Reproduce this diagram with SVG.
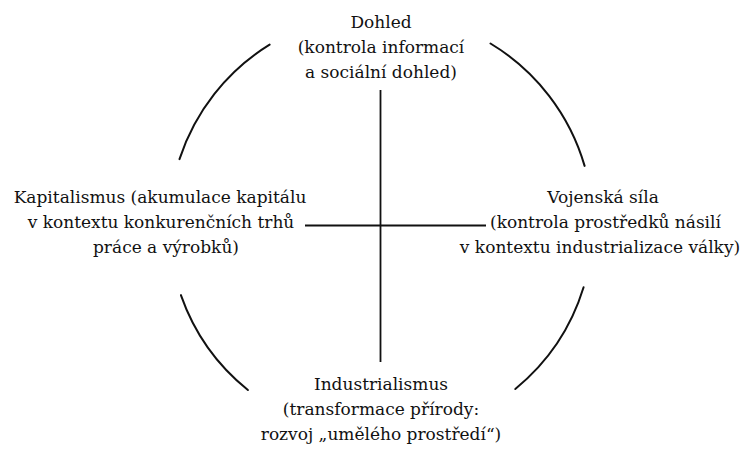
<svg xmlns="http://www.w3.org/2000/svg" width="751" height="449" viewBox="0 0 751 449">
<style>
  .bg { fill: #ffffff; }
  .t { font-family: "DejaVu Serif", serif; font-size: 17px; fill: #111111; text-anchor: middle; }
  .s { text-anchor: start; }
  .arc { fill: none; stroke: #111111; stroke-width: 2; stroke-linecap: round; }
  .axis { fill: none; stroke: #111111; stroke-width: 1.8; }
</style>
<rect class="bg" x="0" y="0" width="751" height="449"/>
<g id="connectors">
  <path class="arc" d="M269.6,44.6 A212,212 0 0 0 179.5,159.1"/>
  <path class="arc" d="M490.5,43.5 A212,212 0 0 1 584.6,165.9"/>
  <path class="arc" d="M180.9,295.1 A212,212 0 0 0 247.9,390"/>
  <path class="arc" d="M583.6,287.3 A212,212 0 0 1 515.3,389"/>
  <line class="axis" x1="380.5" y1="90" x2="380.5" y2="362"/>
  <line class="axis" x1="305" y1="225.5" x2="486" y2="225.5"/>
</g>
<g id="node-dohled">
  <text class="t" x="381" y="28">Dohled</text>
  <text class="t" x="381" y="53">(kontrola informací</text>
  <text class="t" x="381" y="78">a sociální dohled)</text>
</g>
<g id="node-kapitalismus">
  <text class="t" x="160" y="203">Kapitalismus (akumulace kapitálu</text>
  <text class="t" x="161" y="228">v kontextu konkurenčních trhů</text>
  <text class="t" x="166" y="253">práce a výrobků)</text>
</g>
<g id="node-vojenska-sila">
  <text class="t" x="603" y="203">Vojenská síla</text>
  <text class="t s" x="490" y="228">(kontrola prostředků násilí</text>
  <text class="t" x="600" y="253">v kontextu industrializace války)</text>
</g>
<g id="node-industrialismus">
  <text class="t" x="381" y="390">Industrialismus</text>
  <text class="t" x="381" y="415">(transformace přírody:</text>
  <text class="t" x="381" y="440">rozvoj „umělého prostředí“)</text>
</g>
</svg>
